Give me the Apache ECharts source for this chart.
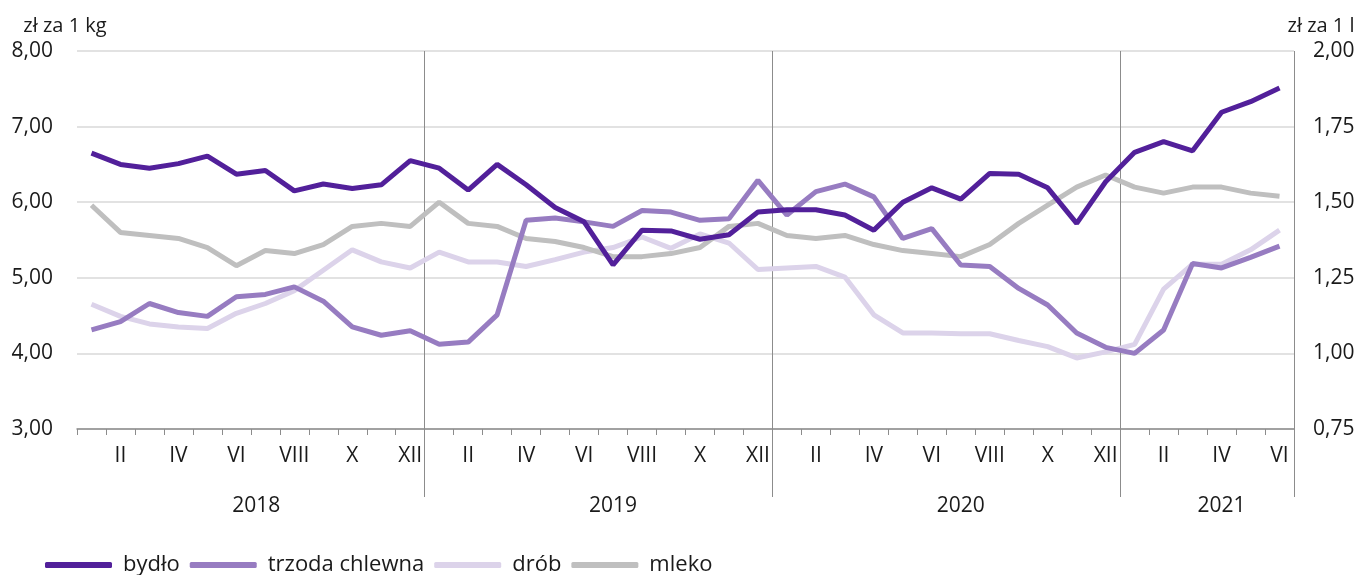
<!DOCTYPE html>
<html>
<head>
<meta charset="utf-8">
<script src="https://cdn.jsdelivr.net/npm/echarts@6/dist/echarts.min.js"></script>
<style>
  html, body { margin: 0; padding: 0; background: #fff; }
  #chart { width: 1361px; height: 575px; }
</style>
</head>
<body>
<div id="chart"></div>
<script>
// miesiące I.2018 – VI.2021
const romanMonths = ['I', 'II', 'III', 'IV', 'V', 'VI', 'VII', 'VIII', 'IX', 'X', 'XI', 'XII'];
const years = ['2018', '2019', '2020', '2021'];
const monthsInLastYear = 6;
// indeks kategorii, pod którą stoi podpis roku
const yearLabelIndex = [6, 18, 30, 39];

const bydlo = [
    6.65, 6.50, 6.45, 6.51, 6.61, 6.37, 6.42, 6.15, 6.24, 6.18, 6.23, 6.55,
    6.45, 6.16, 6.50, 6.23, 5.93, 5.74, 5.17, 5.63, 5.62, 5.51, 5.57, 5.87,
    5.90, 5.90, 5.83, 5.63, 6.00, 6.19, 6.04, 6.38, 6.37, 6.19, 5.72, 6.27,
    6.66, 6.80, 6.68, 7.19, 7.33, 7.51
];
const trzoda = [
    4.31, 4.42, 4.66, 4.54, 4.49, 4.75, 4.78, 4.88, 4.69, 4.35, 4.24, 4.30,
    4.12, 4.15, 4.51, 5.76, 5.79, 5.74, 5.68, 5.89, 5.87, 5.76, 5.78, 6.29,
    5.83, 6.14, 6.24, 6.07, 5.52, 5.65, 5.17, 5.15, 4.86, 4.64, 4.27, 4.08,
    4.00, 4.31, 5.19, 5.13, 5.27, 5.42
];
const drob = [
    4.65, 4.49, 4.39, 4.35, 4.33, 4.53, 4.66, 4.83, 5.10, 5.37, 5.21, 5.13,
    5.34, 5.21, 5.21, 5.15, 5.24, 5.34, 5.40, 5.54, 5.39, 5.58, 5.46, 5.11,
    5.13, 5.15, 5.01, 4.51, 4.27, 4.27, 4.26, 4.26, 4.17, 4.09, 3.94, 4.02,
    4.12, 4.85, 5.18, 5.18, 5.37, 5.63
];
// mleko – prawa oś, zł za 1 l
const mleko = [
    1.49, 1.40, 1.39, 1.38, 1.35, 1.29, 1.34, 1.33, 1.36, 1.42, 1.43, 1.42,
    1.50, 1.43, 1.42, 1.38, 1.37, 1.35, 1.32, 1.32, 1.33, 1.35, 1.42, 1.43,
    1.39, 1.38, 1.39, 1.36, 1.34, 1.33, 1.32, 1.36, 1.43, 1.49, 1.55, 1.59,
    1.55, 1.53, 1.55, 1.55, 1.53, 1.52
];

const categories = [];
years.forEach((y, i) => {
    const n = i === years.length - 1 ? monthsInLastYear : 12;
    for (let m = 0; m < n; m++) categories.push(romanMonths[m]);
});

const FONT = 'Open Sans';
const TEXT = '#1a1a1a';
const AXIS = '#8c8c8c';
const fmt = v => v.toFixed(2).replace('.', ',');

const chart = echarts.init(document.getElementById('chart'));
chart.setOption({
    animation: false,
    textStyle: { fontFamily: FONT, color: TEXT },
    grid: { left: 77, right: 67, top: 51, bottom: 146 },
    legend: {
        left: 40,
        top: 549,
        icon: 'roundRect',
        itemWidth: 67,
        itemHeight: 6,
        itemGap: 10,
        textStyle: { fontFamily: FONT, fontSize: 22, color: TEXT, padding: [0, 0, 0, 6] },
        data: ['bydło', 'trzoda chlewna', 'drób', 'mleko']
    },
    xAxis: [
        {
            type: 'category',
            data: categories,
            boundaryGap: true,
            axisLine: { lineStyle: { color: AXIS, width: 1.5 } },
            axisTick: { show: true, length: 6, interval: 0, lineStyle: { color: AXIS } },
            axisLabel: {
                interval: idx => idx % 2 === 1,
                margin: 17,
                fontSize: 21,
                color: TEXT,
                fontFamily: FONT
            },
            splitLine: { show: false }
        },
        {
            // podział na lata: pionowe linie i podpisy lat
            type: 'category',
            data: categories,
            position: 'bottom',
            boundaryGap: true,
            axisLine: { show: false },
            axisTick: {
                show: true,
                length: 68,
                interval: idx => idx > 0 && idx % 12 === 0,
                lineStyle: { color: AXIS }
            },
            splitLine: {
                show: true,
                interval: idx => idx > 0 && idx % 12 === 0,
                lineStyle: { color: AXIS, width: 1 }
            },
            axisLabel: {
                interval: idx => yearLabelIndex.includes(idx),
                formatter: (val, idx) => {
                    const k = yearLabelIndex.indexOf(idx);
                    if (k < 0) return '';
                    return k === 0 ? '{s|' + years[k] + '}' : years[k];
                },
                rich: { s: { fontSize: 21, fontFamily: FONT, color: TEXT, padding: [0, 18, 0, 0] } },
                margin: 67,
                fontSize: 21,
                color: TEXT,
                fontFamily: FONT
            }
        }
    ],
    yAxis: [
        {
            type: 'value',
            min: 3,
            max: 8,
            interval: 1,
            name: 'zł za 1 kg',
            nameLocation: 'end',
            nameGap: 15,
            nameTextStyle: { fontSize: 20, color: TEXT, fontFamily: FONT, padding: [0, 24, 0, 0] },
            axisLine: { show: false },
            axisTick: { show: false },
            axisLabel: { formatter: fmt, fontSize: 21, color: TEXT, margin: 24, fontFamily: FONT },
            splitLine: { lineStyle: { color: '#d9d9d9', width: 1.5 } }
        },
        {
            type: 'value',
            min: 0.75,
            max: 2,
            interval: 0.25,
            position: 'right',
            name: 'zł za 1 l',
            nameLocation: 'end',
            nameGap: 15,
            nameTextStyle: { fontSize: 20, color: TEXT, fontFamily: FONT, padding: [0, 0, 0, 54] },
            axisLine: { show: false },
            axisTick: { show: false },
            axisLabel: { formatter: fmt, fontSize: 21, color: TEXT, margin: 19, fontFamily: FONT },
            splitLine: { show: false }
        }
    ],
    series: [
        { name: 'bydło', type: 'line', data: bydlo, yAxisIndex: 0, symbol: 'none',
          lineStyle: { width: 5, color: '#52209a' }, itemStyle: { color: '#52209a' }, z: 5 },
        { name: 'trzoda chlewna', type: 'line', data: trzoda, yAxisIndex: 0, symbol: 'none',
          lineStyle: { width: 5, color: '#977cc1' }, itemStyle: { color: '#977cc1' }, z: 4 },
        { name: 'drób', type: 'line', data: drob, yAxisIndex: 0, symbol: 'none',
          lineStyle: { width: 5, color: '#dcd3ea' }, itemStyle: { color: '#dcd3ea' }, z: 2 },
        { name: 'mleko', type: 'line', data: mleko, yAxisIndex: 1, symbol: 'none',
          lineStyle: { width: 5, color: '#bfbfbf' }, itemStyle: { color: '#bfbfbf' }, z: 3 }
    ]
});
</script>
</body>
</html>
